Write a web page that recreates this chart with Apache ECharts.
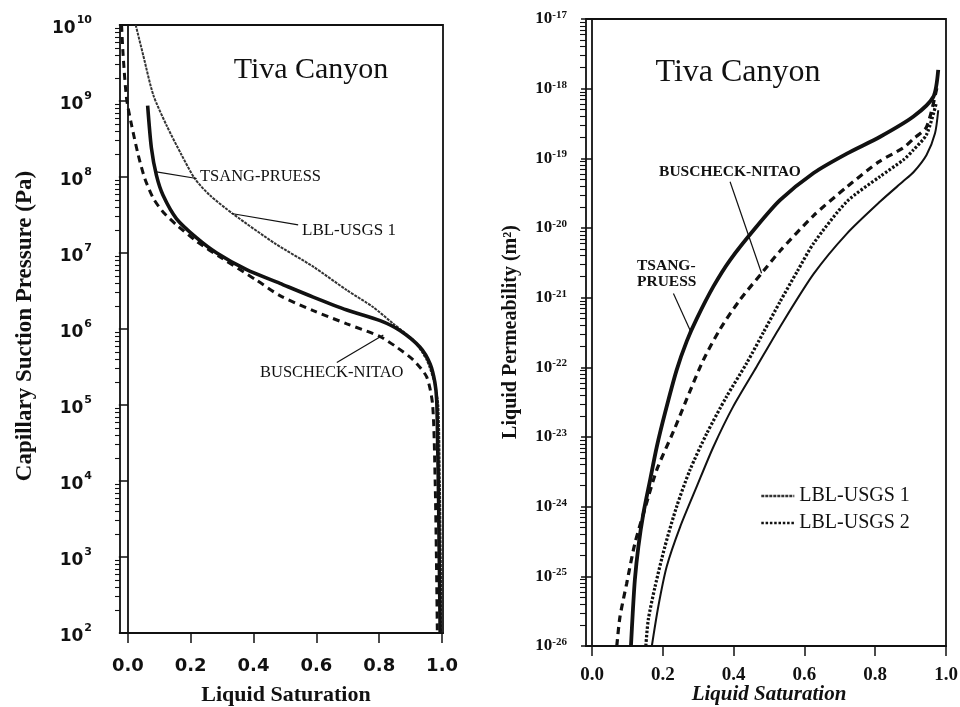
<!DOCTYPE html>
<html>
<head>
<meta charset="utf-8">
<script src="https://cdn.jsdelivr.net/npm/echarts@6/dist/echarts.min.js"></script>
<style>
  html, body { margin: 0; padding: 0; background: #fff; }
  #chart { width: 960px; height: 707px; }
</style>
</head>
<body>
<div id="chart"></div>
<script>
// ---------- Left panel: capillary suction pressure (Pa) vs liquid saturation ----------
const tpSatCap = [0.063, 0.075, 0.091, 0.112, 0.155, 0.219, 0.283, 0.378, 0.484, 0.590, 0.697, 0.803, 0.866, 0.930, 0.962, 0.977, 0.983, 0.986, 0.989, 0.994];
const tpCap    = [8.71e8, 2.40e8, 1.05e8, 5.75e7, 2.82e7, 1.58e7, 1.0e7, 6.03e6, 3.98e6, 2.63e6, 1.78e6, 1.29e6, 9.55e5, 5.75e5, 3.47e5, 2.0e5, 1.15e5, 3.16e4, 5.5e3, 1.0e2];

const bnSatCap = [-0.020, -0.015, -0.004, 0.012, 0.033, 0.054, 0.081, 0.112, 0.155, 0.220, 0.300, 0.410, 0.484, 0.590, 0.697, 0.803, 0.856, 0.909, 0.951, 0.970, 0.978, 0.982, 0.985];
const bnCap    = [1.0e10, 3.98e9, 1.07e9, 4.79e8, 1.95e8, 9.55e7, 5.25e7, 3.47e7, 2.34e7, 1.41e7, 8.51e6, 4.37e6, 2.75e6, 1.74e6, 1.17e6, 7.94e5, 5.75e5, 3.89e5, 2.34e5, 1.0e5, 1.0e4, 1.0e3, 1.0e2];

const lbl1SatCap = [0.025, 0.049, 0.081, 0.123, 0.171, 0.213, 0.261, 0.336, 0.470, 0.590, 0.697, 0.780, 0.845, 0.909, 0.950, 0.975, 0.988, 0.993, 0.996, 0.998];
const lbl1Cap    = [1.0e10, 3.98e9, 1.20e9, 4.79e8, 1.95e8, 9.55e7, 5.75e7, 3.24e7, 1.32e7, 6.61e6, 3.24e6, 1.95e6, 1.17e6, 7.08e5, 3.98e5, 2.0e5, 1.0e5, 1.0e4, 1.0e3, 1.0e2];

// ---------- Right panel: liquid permeability (m^2) vs liquid saturation ----------
const tpSatK = [0.110, 0.115, 0.121, 0.131, 0.145, 0.164, 0.183, 0.206, 0.239, 0.268, 0.296, 0.343, 0.390, 0.465, 0.531, 0.626, 0.720, 0.814, 0.908, 0.964, 0.978];
const tpK    = [1.0e-26, 2.95e-26, 8.91e-26, 2.69e-25, 7.94e-25, 2.40e-24, 7.24e-24, 2.19e-23, 9.12e-23, 2.40e-22, 5.01e-22, 1.45e-21, 3.47e-21, 1.05e-20, 2.51e-20, 6.17e-20, 1.17e-19, 2.04e-19, 3.98e-19, 7.59e-19, 1.86e-18];

const bnSatK = [0.070, 0.079, 0.098, 0.121, 0.150, 0.183, 0.230, 0.268, 0.314, 0.362, 0.418, 0.484, 0.531, 0.626, 0.720, 0.810, 0.879, 0.908, 0.945, 0.975];
const bnK    = [1.0e-26, 2.63e-26, 7.94e-26, 2.95e-25, 9.55e-25, 3.39e-24, 1.20e-23, 3.55e-23, 1.26e-22, 3.55e-22, 9.33e-22, 2.40e-21, 4.68e-21, 1.51e-20, 3.89e-20, 8.91e-20, 1.41e-19, 1.91e-19, 2.82e-19, 1.07e-18];

const lbl1SatK = [0.169, 0.187, 0.211, 0.249, 0.296, 0.343, 0.399, 0.465, 0.531, 0.626, 0.720, 0.814, 0.879, 0.908, 0.945, 0.969, 0.978];
const lbl1K    = [1.0e-26, 3.63e-26, 1.38e-25, 5.13e-25, 1.95e-24, 7.24e-24, 2.75e-23, 1.02e-22, 3.80e-22, 2.19e-21, 8.32e-21, 2.40e-20, 4.68e-20, 6.31e-20, 1.12e-19, 2.29e-19, 4.90e-19];

const lbl2SatK = [0.152, 0.159, 0.178, 0.206, 0.239, 0.277, 0.324, 0.380, 0.437, 0.484, 0.531, 0.580, 0.626, 0.720, 0.814, 0.880, 0.908, 0.945, 0.973];
const lbl2K    = [1.0e-26, 2.40e-26, 7.08e-26, 2.69e-25, 1.0e-24, 3.39e-24, 1.12e-23, 3.80e-23, 1.15e-22, 3.16e-22, 8.71e-22, 2.40e-21, 6.03e-21, 2.40e-20, 5.50e-20, 9.55e-20, 1.32e-19, 2.19e-19, 6.31e-19];

// ---------- Annotation arrows: [tail, head] in data coordinates ----------
const arrowsCap = {
  tsang: [[0.219, 9.55e7], [0.091, 1.17e8]],
  lbl1:  [[0.542, 2.34e7], [0.330, 3.31e7]],
  busch: [[0.665, 3.63e5], [0.813, 8.32e5]]
};
const arrowsK = {
  busch: [[0.390, 4.62e-20], [0.479, 2.24e-21]],
  tsang: [[0.230, 1.15e-21], [0.280, 3.16e-22]]
};

// ---------- Tick values ----------
const satTicks = [0.0, 0.2, 0.4, 0.6, 0.8, 1.0];
const capTicks = [1e2, 1e3, 1e4, 1e5, 1e6, 1e7, 1e8, 1e9, 1e10];
const permTicks = [1e-26, 1e-25, 1e-24, 1e-23, 1e-22, 1e-21, 1e-20, 1e-19, 1e-18, 1e-17];

function minorLogTicks(majors) {
  const out = [];
  for (let i = 0; i < majors.length - 1; i++) {
    for (let m = 2; m <= 9; m++) out.push(majors[i] * m);
  }
  return out;
}

const ink = '#111';
const zip = (xs, ys) => xs.map((x, i) => [x, ys[i]]);
const expOf = v => Math.round(Math.log10(v));

function arrowMark(pairs) {
  return {
    silent: true,
    animation: false,
    symbol: ['none', 'arrow'],
    symbolSize: [0, 9],
    label: { show: false },
    lineStyle: { color: ink, width: 1.2, type: 'solid' },
    data: pairs.map(p => [{ coord: p[0] }, { coord: p[1] }])
  };
}

const baseLine = { symbol: 'none', showSymbol: false, smooth: 0.25, animation: false, color: ink, itemStyle: { color: ink } };

const chart = echarts.init(document.getElementById('chart'), null, { renderer: 'canvas' });

chart.setOption({
  backgroundColor: '#fff',
  animation: false,
  grid: [
    { left: 120, right: 517, top: 25, bottom: 74, show: true, borderColor: ink, borderWidth: 1.8, outerBoundsMode: 'none' },
    { left: 586, right: 14, top: 19, bottom: 61, show: true, borderColor: ink, borderWidth: 1.8, outerBoundsMode: 'none' }
  ],
  xAxis: [
    {
      gridIndex: 0, type: 'value', min: -0.025, max: 1.003,
      axisLine: { show: true, lineStyle: { color: ink, width: 1.8 } },
      axisTick: { show: true, customValues: satTicks, length: 10, lineStyle: { color: ink, width: 1.5 } },
      axisLabel: {
        customValues: satTicks, formatter: v => v.toFixed(1), margin: 24,
        fontFamily: 'DejaVu Sans', fontWeight: 'bold', fontSize: 18, color: ink
      },
      splitLine: { show: false }
    },
    {
      gridIndex: 1, type: 'value', min: -0.017, max: 1.0,
      axisLine: { show: true, lineStyle: { color: ink, width: 1.8 } },
      axisTick: { show: true, customValues: satTicks, length: 10, lineStyle: { color: ink, width: 1.5 } },
      axisLabel: {
        customValues: satTicks, formatter: v => v.toFixed(1), margin: 20,
        fontFamily: 'Liberation Serif', fontWeight: 'bold', fontSize: 19, color: ink
      },
      splitLine: { show: false }
    }
  ],
  yAxis: [
    {
      gridIndex: 0, type: 'log', logBase: 10, min: 1e2, max: 1e10, position: 'left',
      axisLine: { show: true, lineStyle: { color: ink, width: 1.8 } },
      axisTick: { show: true, customValues: capTicks, length: 9, lineStyle: { color: ink, width: 1.5 } },
      axisLabel: {
        customValues: capTicks, margin: 28, color: ink,
        formatter: v => '{b|10}{s|' + expOf(v) + '}',
        rich: {
          b: { fontFamily: 'DejaVu Sans', fontWeight: 'bold', fontSize: 17, lineHeight: 25, verticalAlign: 'bottom', color: ink },
          s: { fontFamily: 'DejaVu Sans', fontWeight: 'bold', fontSize: 11, lineHeight: 11, verticalAlign: 'top', padding: [2, 0, 0, 1], color: ink }
        }
      },
      splitLine: { show: false }
    },
    {
      gridIndex: 0, type: 'log', logBase: 10, min: 1e2, max: 1e10, position: 'left',
      axisLine: { show: false },
      axisTick: { show: true, customValues: minorLogTicks(capTicks), length: 5, lineStyle: { color: ink, width: 1.1 } },
      axisLabel: { show: false },
      splitLine: { show: false }
    },
    {
      gridIndex: 1, type: 'log', logBase: 10, min: 1e-26, max: 1e-17, position: 'left',
      axisLine: { show: true, lineStyle: { color: ink, width: 1.8 } },
      axisTick: { show: true, customValues: permTicks, length: 11, lineStyle: { color: ink, width: 1.5 } },
      axisLabel: {
        customValues: permTicks, margin: 19, color: ink,
        formatter: v => '{b|10}{s|-' + Math.abs(expOf(v)) + '}',
        rich: {
          b: { fontFamily: 'Liberation Serif', fontWeight: 'bold', fontSize: 17, lineHeight: 19, color: ink },
          s: { fontFamily: 'Liberation Serif', fontWeight: 'bold', fontSize: 11, lineHeight: 11, verticalAlign: 'top', color: ink }
        }
      },
      splitLine: { show: false }
    },
    {
      gridIndex: 1, type: 'log', logBase: 10, min: 1e-26, max: 1e-17, position: 'left',
      axisLine: { show: false },
      axisTick: { show: true, customValues: minorLogTicks(permTicks), length: 6, lineStyle: { color: ink, width: 1.1 } },
      axisLabel: { show: false },
      splitLine: { show: false }
    }
  ],
  legend: {
    data: ['LBL-USGS 1', 'LBL-USGS 2'],
    orient: 'vertical', left: 755, top: 481,
    itemWidth: 33, itemHeight: 14, itemGap: 7,
    selectedMode: false,
    itemStyle: { opacity: 0 },
    lineStyle: { width: 2.6 },
    textStyle: { fontFamily: 'Liberation Serif', fontSize: 20, color: ink }
  },
  series: [
    // left panel
    Object.assign({}, baseLine, {
      name: 'LBL-USGS 1', type: 'line', xAxisIndex: 0, yAxisIndex: 0,
      data: zip(lbl1SatCap, lbl1Cap),
      lineStyle: { color: '#333', width: 2, type: [3, 1] },
      markLine: arrowMark([arrowsCap.lbl1])
    }),
    Object.assign({}, baseLine, {
      name: 'TSANG-PRUESS', type: 'line', xAxisIndex: 0, yAxisIndex: 0,
      data: zip(tpSatCap, tpCap),
      lineStyle: { color: ink, width: 3.6, type: 'solid' },
      markLine: arrowMark([arrowsCap.tsang])
    }),
    Object.assign({}, baseLine, {
      name: 'BUSCHECK-NITAO', type: 'line', xAxisIndex: 0, yAxisIndex: 0,
      data: zip(bnSatCap, bnCap),
      lineStyle: { color: ink, width: 3, type: [7, 5] },
      markLine: arrowMark([arrowsCap.busch])
    }),
    // right panel
    Object.assign({}, baseLine, {
      name: 'TSANG-PRUESS', type: 'line', xAxisIndex: 1, yAxisIndex: 2,
      data: zip(tpSatK, tpK),
      lineStyle: { color: ink, width: 3.8, type: 'solid' },
      markLine: arrowMark([arrowsK.tsang])
    }),
    Object.assign({}, baseLine, {
      name: 'BUSCHECK-NITAO', type: 'line', xAxisIndex: 1, yAxisIndex: 2,
      data: zip(bnSatK, bnK),
      lineStyle: { color: ink, width: 3.2, type: [7, 5] },
      markLine: arrowMark([arrowsK.busch])
    }),
    Object.assign({}, baseLine, {
      name: 'LBL-USGS 1', type: 'line', xAxisIndex: 1, yAxisIndex: 2,
      data: zip(lbl1SatK, lbl1K),
      lineStyle: { color: ink, width: 2, type: 'solid' }
    }),
    Object.assign({}, baseLine, {
      name: 'LBL-USGS 2', type: 'line', xAxisIndex: 1, yAxisIndex: 2,
      data: zip(lbl2SatK, lbl2K),
      lineStyle: { color: ink, width: 3.2, type: [2.5, 1.8] }
    })
  ],
  graphic: [
    // left panel texts
    { type: 'text', x: 311, y: 70, style: { text: 'Tiva Canyon', font: '30px "Liberation Serif"', fill: ink, align: 'center', verticalAlign: 'middle' } },
    { type: 'text', x: 200, y: 177, style: { text: 'TSANG-PRUESS', font: '16.5px "Liberation Serif"', fill: ink, align: 'left', verticalAlign: 'middle' } },
    { type: 'text', x: 302, y: 231, style: { text: 'LBL-USGS 1', font: '17px "Liberation Serif"', fill: ink, align: 'left', verticalAlign: 'middle' } },
    { type: 'text', x: 260, y: 373, style: { text: 'BUSCHECK-NITAO', font: '16.5px "Liberation Serif"', fill: ink, align: 'left', verticalAlign: 'middle' } },
    { type: 'text', x: 25, y: 326, rotation: Math.PI / 2, style: { text: 'Capillary Suction Pressure (Pa)', font: 'bold 23px "Liberation Serif"', fill: ink, align: 'center', verticalAlign: 'middle' } },
    { type: 'text', x: 286, y: 695, style: { text: 'Liquid Saturation', font: 'bold 22px "Liberation Serif"', fill: ink, align: 'center', verticalAlign: 'middle' } },
    // right panel texts
    { type: 'text', x: 738, y: 73, style: { text: 'Tiva Canyon', font: '32px "Liberation Serif"', fill: ink, align: 'center', verticalAlign: 'middle' } },
    { type: 'text', x: 730, y: 172, style: { text: 'BUSCHECK-NITAO', font: 'bold 15.5px "Liberation Serif"', fill: ink, align: 'center', verticalAlign: 'middle' } },
    { type: 'text', x: 637, y: 266, style: { text: 'TSANG-', font: 'bold 15.5px "Liberation Serif"', fill: ink, align: 'left', verticalAlign: 'middle' } },
    { type: 'text', x: 637, y: 282, style: { text: 'PRUESS', font: 'bold 15.5px "Liberation Serif"', fill: ink, align: 'left', verticalAlign: 'middle' } },
    { type: 'text', x: 511, y: 332, rotation: Math.PI / 2, style: { text: 'Liquid Permeability (m\u00B2)', font: 'bold 20px "Liberation Serif"', fill: ink, align: 'center', verticalAlign: 'middle' } },
    { type: 'text', x: 769, y: 695, style: { text: 'Liquid Saturation', font: 'italic bold 21px "Liberation Serif"', fill: ink, align: 'center', verticalAlign: 'middle' } }
  ]
});
</script>
</body>
</html>
